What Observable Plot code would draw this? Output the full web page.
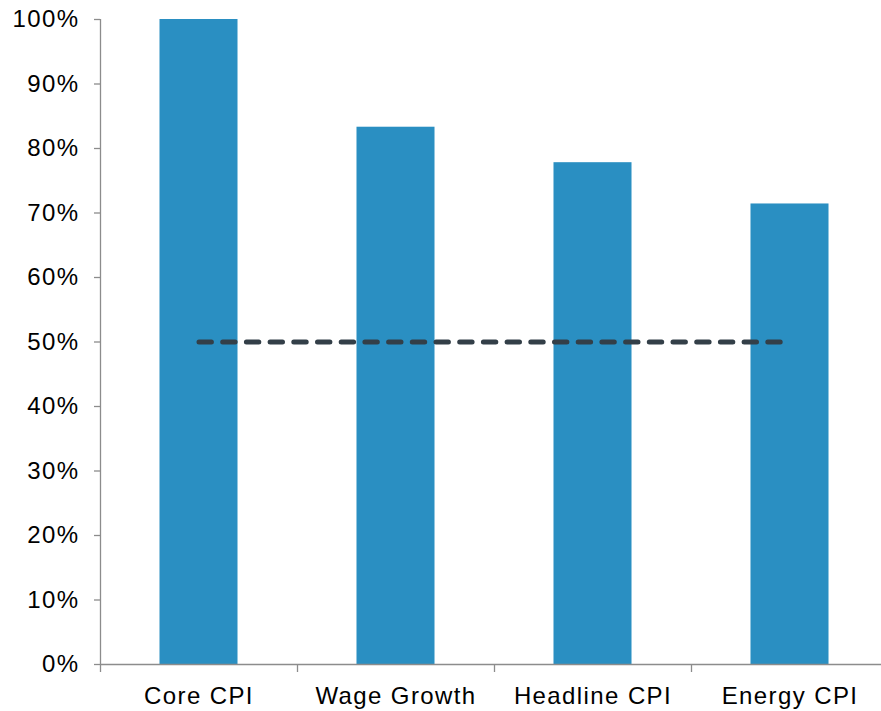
<!DOCTYPE html>
<html>
<head>
<meta charset="utf-8">
<script src="https://cdn.jsdelivr.net/npm/d3@7"></script>
<script src="https://cdn.jsdelivr.net/npm/@observablehq/plot@0.6"></script>
<style>
  html, body { margin: 0; padding: 0; background: #fff; overflow: hidden; }
</style>
</head>
<body>
<div id="chart"></div>
<script>
const categories = ["Core CPI", "Wage Growth", "Headline CPI", "Energy CPI"];
const values = [1.0, 0.833, 0.778, 0.714];
const thresholdValue = 0.5;
const yTicks = [0, 0.1, 0.2, 0.3, 0.4, 0.5, 0.6, 0.7, 0.8, 0.9, 1.0];

const data = categories.map((c, i) => ({category: c, value: values[i]}));
const threshold = [
  {category: categories[0], value: thresholdValue},
  {category: categories[categories.length - 1], value: thresholdValue}
];

const W = 881, H = 711;
const mL = 100, mR = -7, mT = 19, mB = 47;
const step = (W - mL - mR) / categories.length;
const axisColor = "#8c8c8c";
const barColor = "#2a8fc2";

const chart = Plot.plot({
  width: W,
  height: H,
  marginLeft: mL,
  marginRight: mR,
  marginTop: mT,
  marginBottom: mB,
  style: {fontFamily: "'Liberation Sans', Arial, sans-serif", fontSize: "24px", letterSpacing: "1.4px", color: "#000", background: "#fff"},
  x: {domain: categories, padding: 0, label: null},
  y: {domain: [0, 1], label: null},
  marks: [
    Plot.barY(data, {x: "category", y: "value", fill: barColor, insetLeft: step * 0.302, insetRight: step * 0.302}),
    Plot.ruleY([0], {stroke: axisColor, strokeWidth: 1.3}),
    Plot.ruleX([categories[0]], {dx: -step / 2, stroke: axisColor, strokeWidth: 1.3}),
    Plot.axisX({tickSize: 8, tickFormat: () => "", dx: -step / 2, stroke: axisColor, strokeWidth: 1.3, label: null}),
    Plot.axisX({tickSize: 0, tickPadding: 22, fontSize: 24, label: null}),
    Plot.axisY({ticks: yTicks, tickFormat: d3.format(".0%"), tickSize: 6, tickPadding: 15, stroke: axisColor, strokeWidth: 1.3, fontSize: 24, label: null}),
    Plot.lineY(threshold, {x: "category", y: "value", stroke: "#333f48", strokeWidth: 5, strokeDasharray: "12.4,11.3", strokeLinecap: "round"})
  ]
});
document.getElementById("chart").appendChild(chart);
</script>
</body>
</html>
